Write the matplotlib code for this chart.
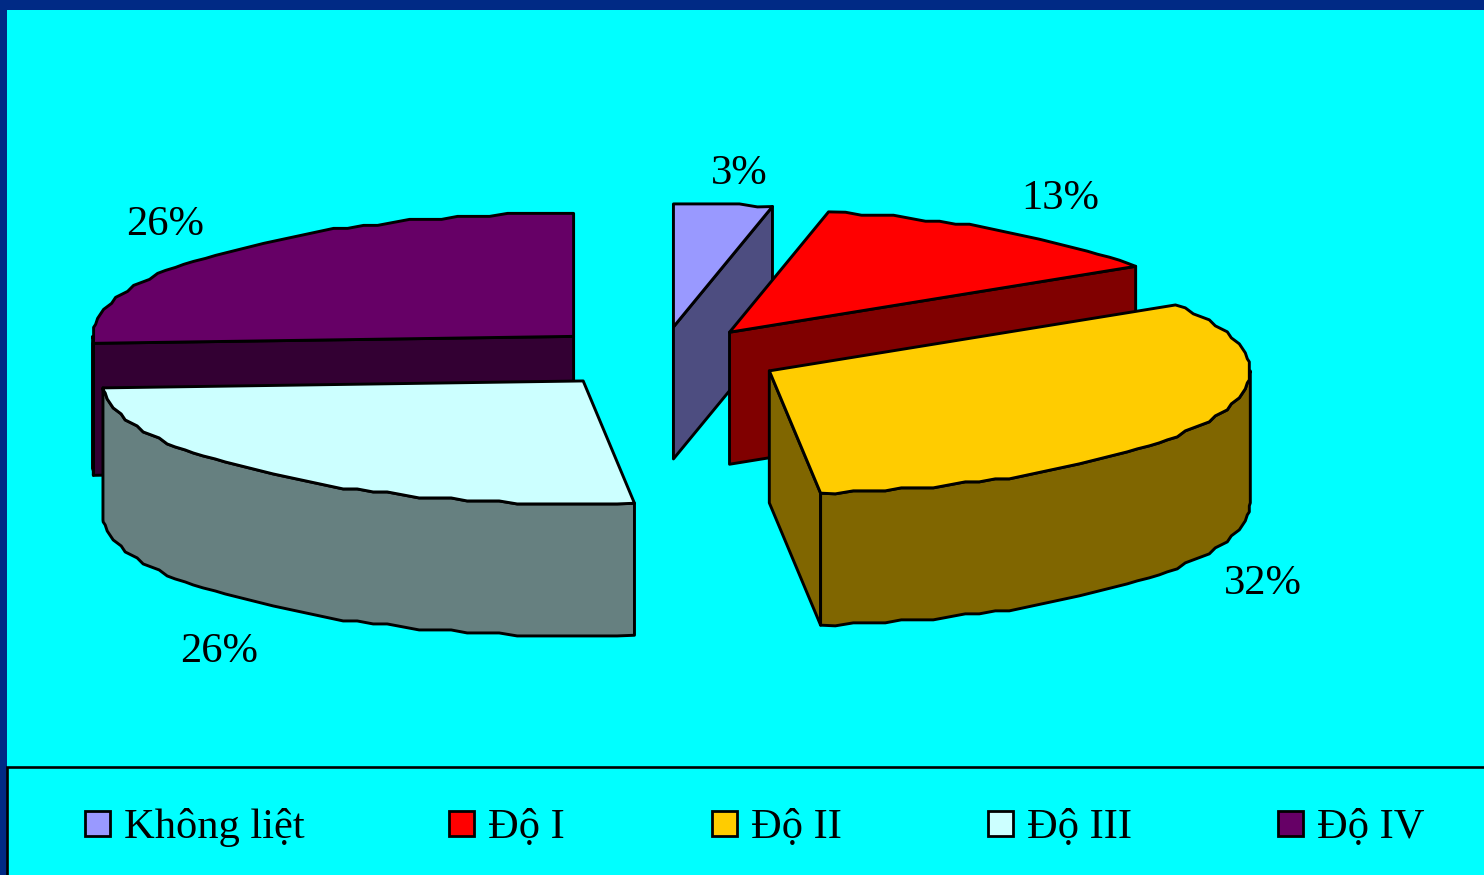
import numpy as np
import matplotlib
matplotlib.use('Agg')
import matplotlib.pyplot as plt
from matplotlib.patches import Polygon, Rectangle

plt.rcParams['font.family'] = ['Liberation Serif', 'DejaVu Serif']

### Data
categories = ['Không liệt', 'Độ I', 'Độ II', 'Độ III', 'Độ IV']
shares = [3.3, 12.7, 32.3, 25.8, 25.9]
pct_labels = ['3%', '13%', '32%', '26%', '26%']

### Styles and layout (pixels of the 1484x875 picture)
top_colors = ['#9999FF', '#FF0000', '#FFCC00', '#CCFFFF', '#660066']
side_colors = ['#4D4D80', '#800000', '#806600', '#668080', '#330033']
label_xy = [(711, 184), (1021, 209), (1224, 594), (180, 662), (126, 235)]
legend_box_x = [85, 449, 712, 988, 1278]
draw_order = [4, 0, 1, 2, 3]

cx, cy = 661, 357.5
rx, ry = 481, 123
depth = 132
explode = 0.25

fig = plt.figure(figsize=(14.84, 8.75), dpi=100, facecolor='#00FFFF')
ax = fig.add_axes([0, 0, 1, 1])
ax.set_xlim(0, 1484)
ax.set_ylim(875, 0)
ax.axis('off')


def arc(apex, t0, t1):
    # small wobble on the rim like the old metafile export, same grid for top and wall
    inner = np.arange(np.ceil(t0 / 2) * 2, t1, 2.0)
    inner = inner[(inner > t0 + 0.5) & (inner < t1 - 0.5)]
    t = np.radians(inner)
    x = np.round(rx * np.sin(t) / 2) * 2
    y = np.round(-ry * np.cos(t) / 3) * 3
    ends = np.radians([t0, t1])
    x = np.concatenate([[rx * np.sin(ends[0])], x, [rx * np.sin(ends[1])]])
    y = np.concatenate([[-ry * np.cos(ends[0])], y, [-ry * np.cos(ends[1])]])
    return np.column_stack([apex[0] + x, apex[1] + y])


def draw_poly(pts, color):
    ax.add_patch(Polygon(pts, closed=True, facecolor=color, edgecolor='black',
                         linewidth=2.1, joinstyle='round'))


def radial_face(apex, t, color):
    tip = arc(apex, t, t)[0]
    draw_poly([apex, tip, tip + [0, depth], np.array(apex) + [0, depth]], color)


edges = np.concatenate([[0], np.cumsum(shares)]) * 3.6

for i in draw_order:
    t0, t1 = edges[i], edges[i + 1]
    mid = np.radians((t0 + t1) / 2)
    apex = (cx + explode * rx * np.sin(mid), cy - explode * ry * np.cos(mid))
    # walls first, tops after
    if np.sin(np.radians(t0)) < -0.01:
        radial_face(apex, t0, side_colors[i])
    if np.sin(np.radians(t1)) > 0.01:
        radial_face(apex, t1, side_colors[i])
    lo, hi = max(t0, 90), min(t1, 270)
    if hi > lo:
        rim = arc(apex, lo, hi)
        draw_poly(np.vstack([rim, rim[::-1] + [0, depth]]), side_colors[i])
    draw_poly(np.vstack([[apex], arc(apex, t0, t1)]), top_colors[i])

for (x, y), lab in zip(label_xy, pct_labels):
    ax.text(x, y, lab, fontsize=30.6, color='black', ha='left', va='baseline')

### Legend
ax.plot([1484, 7, 7], [767, 767, 875], color='black', linewidth=1.9, solid_joinstyle='miter')
for x, name, col in zip(legend_box_x, categories, top_colors):
    ax.add_patch(Rectangle((x, 811), 25, 25, facecolor=col, edgecolor='black', linewidth=2))
    ax.text(x + 39, 838, name, fontsize=30.6, color='black', ha='left', va='baseline')

### Slide frame
ax.add_patch(Rectangle((0, 0), 1484, 10, facecolor='#002A85', edgecolor='none'))
ax.add_patch(Rectangle((0, 0), 7, 875, facecolor='#002A85', edgecolor='none'))

fig.savefig('out.png', dpi=100, facecolor=fig.get_facecolor())
